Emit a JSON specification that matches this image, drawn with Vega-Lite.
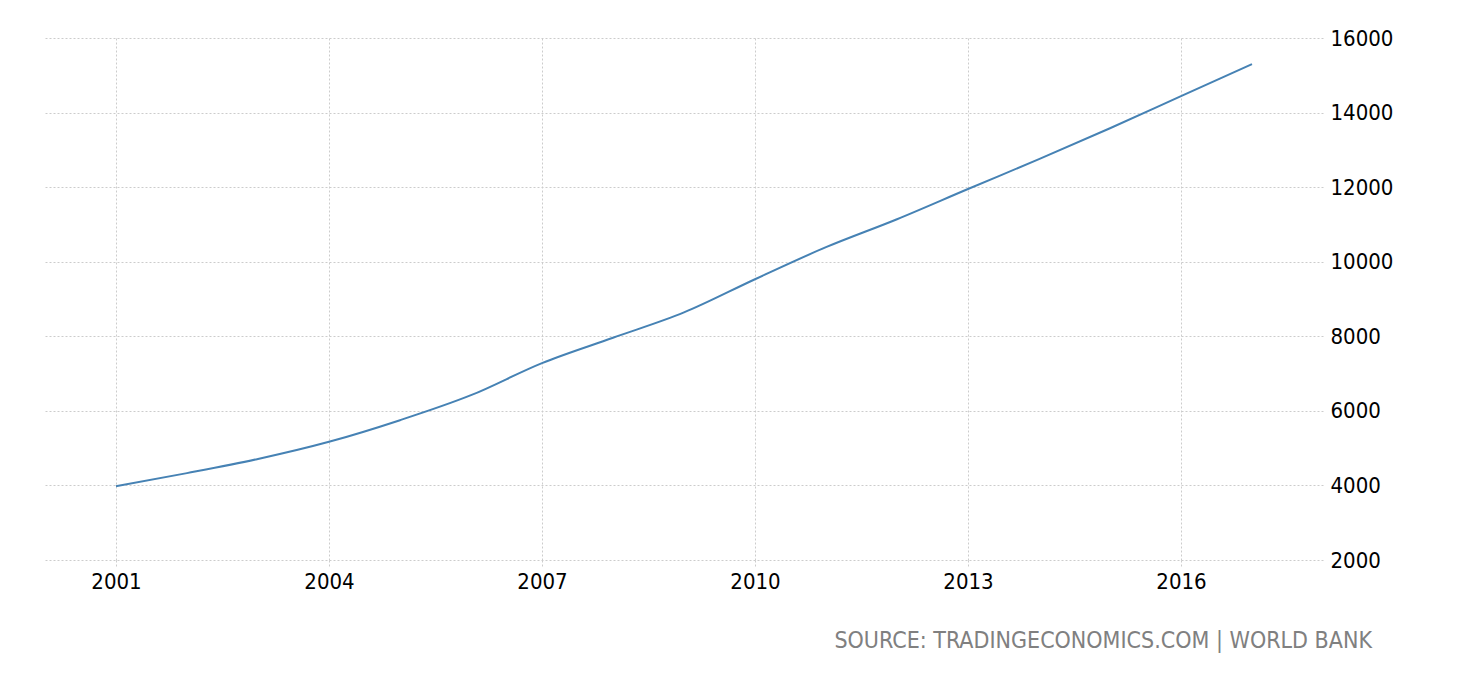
{
  "$schema": "https://vega.github.io/schema/vega-lite/v6.json",
  "autosize": {"type": "none"},
  "width": 1278,
  "height": 522,
  "padding": {"left": 45, "top": 38, "right": 137, "bottom": 120},
  "background": "white",
  "title": {
    "text": "SOURCE: TRADINGECONOMICS.COM | WORLD BANK",
    "orient": "bottom",
    "anchor": "end",
    "frame": "group",
    "dx": 49,
    "offset": 38,
    "font": "DejaVu Sans Condensed",
    "fontSize": 23,
    "fontWeight": "normal",
    "color": "#808080"
  },
  "data": {
    "values": [
      {"year": 2001, "value": 3980},
      {"year": 2002, "value": 4330},
      {"year": 2003, "value": 4710},
      {"year": 2004, "value": 5170},
      {"year": 2005, "value": 5750},
      {"year": 2006, "value": 6420},
      {"year": 2007, "value": 7280},
      {"year": 2008, "value": 7960},
      {"year": 2009, "value": 8640},
      {"year": 2010, "value": 9530},
      {"year": 2011, "value": 10390},
      {"year": 2012, "value": 11140},
      {"year": 2013, "value": 11950},
      {"year": 2014, "value": 12750},
      {"year": 2015, "value": 13580},
      {"year": 2016, "value": 14440},
      {"year": 2017, "value": 15300}
    ]
  },
  "mark": {"type": "line", "color": "#4682b4", "strokeWidth": 2, "interpolate": "monotone"},
  "encoding": {
    "x": {
      "field": "year",
      "type": "quantitative",
      "title": null,
      "scale": {"domain": [2000, 2018], "nice": false, "zero": false},
      "axis": {
        "values": [2001, 2004, 2007, 2010, 2013, 2016],
        "format": "d",
        "domain": false,
        "grid": true,
        "gridColor": "#cccccc",
        "gridDash": [2, 2],
        "ticks": true,
        "tickSize": 8,
        "tickColor": "#cccccc",
        "tickDash": [2, 2],
        "labelPadding": 3,
        "labelFont": "DejaVu Sans Condensed",
        "labelFontSize": 22,
        "labelColor": "black"
      }
    },
    "y": {
      "field": "value",
      "type": "quantitative",
      "title": null,
      "scale": {"domain": [2000, 16000], "nice": false, "zero": false},
      "axis": {
        "orient": "right",
        "values": [2000, 4000, 6000, 8000, 10000, 12000, 14000, 16000],
        "format": "d",
        "domain": false,
        "ticks": false,
        "grid": true,
        "gridColor": "#cccccc",
        "gridDash": [2, 2],
        "labelPadding": 7,
        "labelFont": "DejaVu Sans Condensed",
        "labelFontSize": 22,
        "labelColor": "black",
        "labelBaseline": "middle"
      }
    }
  },
  "config": {"view": {"stroke": null}}
}
